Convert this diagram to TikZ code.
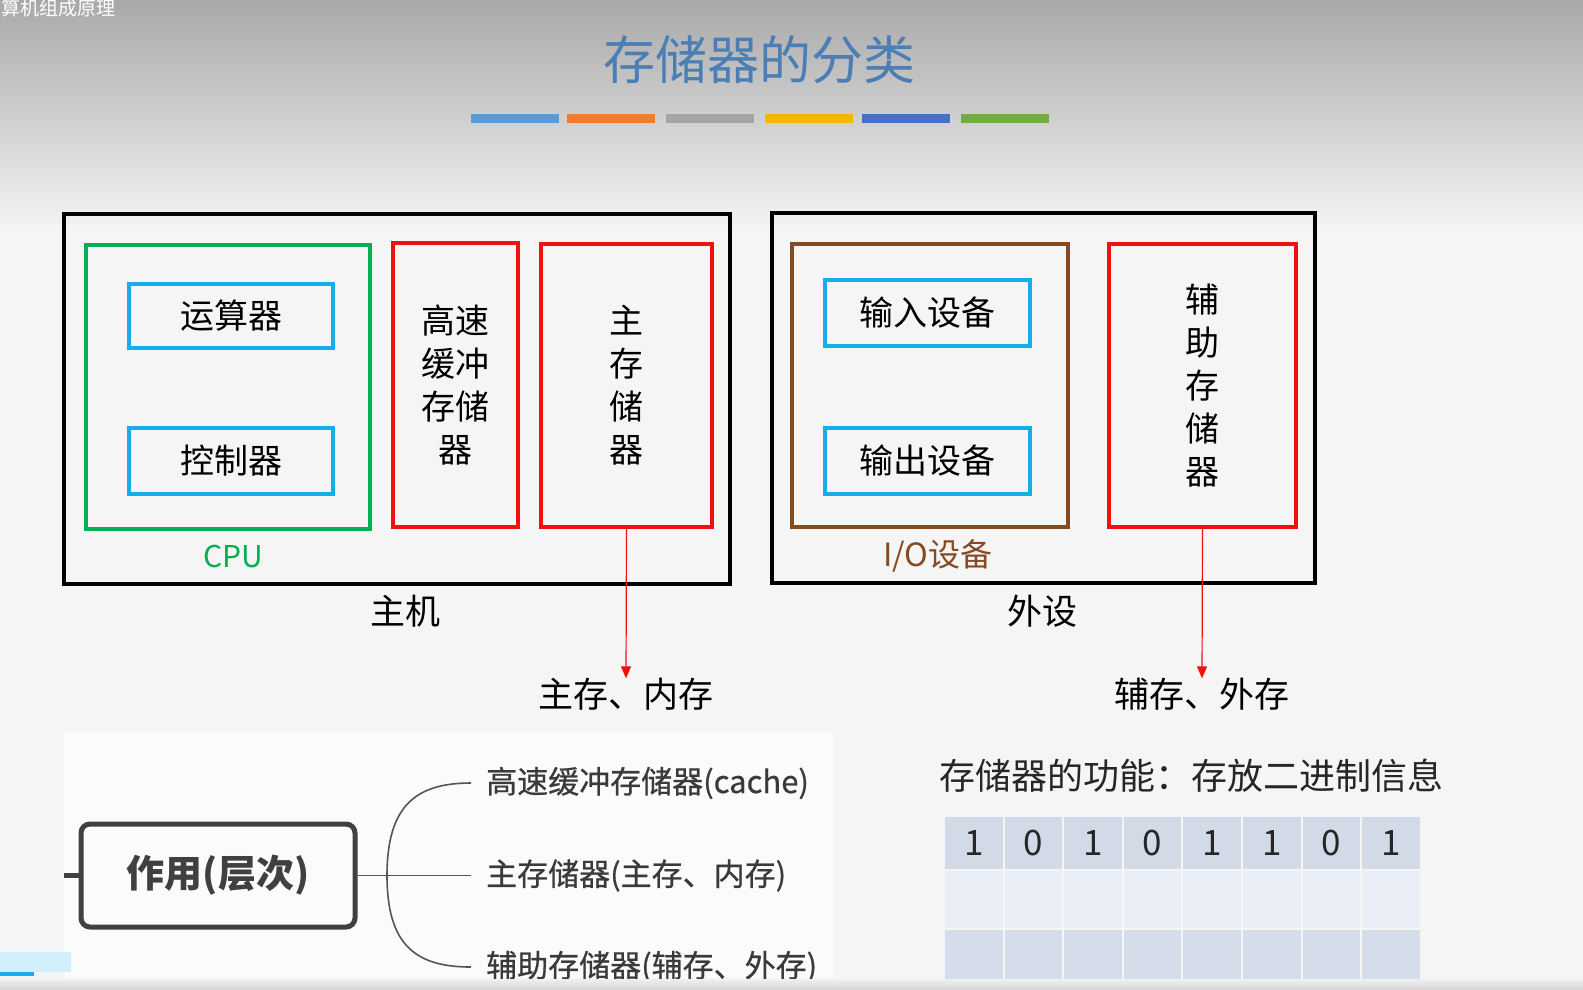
\documentclass[tikz,border=0pt]{standalone}
\usepackage{fontspec}
\setmainfont{Noto Sans CJK SC}
\newfontfamily\leaffam{Noto Sans CJK SC}[FakeBold=0.6]
\usetikzlibrary{arrows.meta,positioning}

\definecolor{titleblue}{HTML}{4A7EB5}
\definecolor{cpugreen}{HTML}{00B050}
\definecolor{unitblue}{HTML}{14AEEA}
\definecolor{memred}{HTML}{F01010}
\definecolor{iobrown}{HTML}{844A22}
\definecolor{leafgray}{HTML}{3A3A3A}
\definecolor{linegray}{HTML}{555555}
\definecolor{rowa}{HTML}{D2DAE8}
\definecolor{rowb}{HTML}{E9EDF5}
\definecolor{rowc}{HTML}{D5DCEA}
\definecolor{bara}{HTML}{5B9BD5}
\definecolor{barb}{HTML}{ED7D31}
\definecolor{barc}{HTML}{A5A5A5}
\definecolor{bard}{HTML}{F2B800}
\definecolor{bare}{HTML}{4472C4}
\definecolor{barf}{HTML}{70AD47}

\begin{document}
\begin{tikzpicture}[x=1pt,y=-1pt,>=stealth,
  box/.style={draw,line width=3.5pt,inner sep=0pt,font=\fontsize{34}{43}\selectfont},
  frame/.style={box,draw=black},
  cpubox/.style={box,draw=cpugreen},
  unitbox/.style={box,draw=unitblue},
  membox/.style={box,draw=memred,align=center},
  iobox/.style={box,draw=iobrown},
  caption/.style={font=\fontsize{35}{40}\selectfont},
  toarrow/.style={draw=memred,line width=1.2pt,-{Triangle[length=12pt,width=10pt]}},
  branch/.style={draw=linegray,line width=1.6pt},
  leaf/.style={anchor=west,inner xsep=15pt,text=leafgray,font=\leaffam\fontsize{31}{34}\selectfont},
  bitcell/.style={minimum width=57.6,inner sep=0pt,text=black!85,font=\fontsize{35}{35}\selectfont}]
\useasboundingbox (0,0) rectangle (1583,989);

% slide background
\shade[top color=black!34,bottom color=black!4] (0,0) rectangle (1583,230);
\fill[black!4] (0,229.5) rectangle (1583,989);
\fill[black!1.5] (64,733) rectangle (833,978);
\node[anchor=north east,inner sep=0pt,text=white,font=\fontsize{19}{19}\selectfont] (course) at (116,-1) {算机组成原理};

% title and colour bars
\node[text=titleblue,font=\fontsize{52}{52}\selectfont] (title) at (759,60) {存储器的分类};
\foreach \x/\c in {471/bara,567/barb,666/barc,765/bard,862/bare,961/barf} {
  \fill[black!18] ({\x+1},117) rectangle +(88,9);
  \fill[\c] (\x,114) rectangle +(88,9);
}

% host
\node[frame,minimum width=666,minimum height=370] (host) at (397,399) {};
\node[cpubox,minimum width=284,minimum height=284] (cpu) at (228,387) {};
\node[unitbox,minimum width=204,minimum height=64] (alu) at (231,316) {运算器};
\node[unitbox,minimum width=204,minimum height=66] (ctrl) at (231,461) {控制器};
\node[text=cpugreen,font=\fontsize{30}{30}\selectfont] (cpulbl) at (233,556) {CPU};
\node[membox,minimum width=125,minimum height=284] (cache) at (455.5,385) {高速\\缓冲\\存储\\器};
\node[membox,minimum width=171,minimum height=283] (mainmem) at (626.5,385.5) {主\\存\\储\\器};
\node[caption] (hostlbl) at (405,611) {主机};

% peripherals
\node[frame,minimum width=543,minimum height=370] (periph) at (1043.5,398) {};
\node[iobox,minimum width=276,minimum height=283] (io) at (930,385.5) {};
\node[unitbox,minimum width=205,minimum height=66] (indev) at (927.5,313) {输入设备};
\node[unitbox,minimum width=205,minimum height=66] (outdev) at (927.5,461) {输出设备};
\node[text=iobrown,font=\fontsize{32}{32}\selectfont] (iolbl) at (938,556) {I/O设备};
\node[membox,minimum width=187,minimum height=283] (auxmem) at (1202.5,385.5) {辅\\助\\存\\储\\器};
\node[caption] (periphlbl) at (1042,611) {外设};

% where each memory lives
\node[caption] (mmname) at (626,694) {主存、内存};
\node[caption] (auxname) at (1202,694) {辅存、外存};
\draw[toarrow] (mainmem.south) -- ([yshift=-4pt]mmname.north);
\draw[toarrow] (auxmem.south) -- ([yshift=-4pt]auxname.north);

% hierarchy by role
\node[draw=black!75,line width=5pt,rounded corners=9pt,minimum width=274,minimum height=103,
  text=black!75,font=\fontsize{38}{38}\selectfont\bfseries] (role) at (218,875.5) {作用(层次)};
\coordinate (stub) at (64,875.5);
\coordinate (fork) at (387,875.5);
\node[leaf] (lcache) at (471,783) {高速缓冲存储器(cache)};
\node[leaf] (lmain) at (471,875.5) {主存储器(主存、内存)};
\node[leaf] (laux) at (471,967) {辅助存储器(辅存、外存)};
\draw[draw=black!75,line width=5pt] (stub) -- (role.west);
\draw[branch] (role.east) -- (fork) -- (lmain.west);
\draw[branch] (fork) .. controls +(0,-70) and +(-55,0) .. (lcache.west);
\draw[branch] (fork) .. controls +(0,70) and +(-55,0) .. (laux.west);

% what memory does
\node[anchor=west,inner sep=0pt,font=\fontsize{36}{36}\selectfont,text=black!85] (func) at (939,776) {存储器的功能：存放二进制信息};
\foreach \d [count=\i] in {1,0,1,0,1,1,0,1} {
  \node[bitcell,fill=rowa,minimum height=52] (b\i) at ({944+(\i-0.5)*59.6},843) {\d};
  \node[bitcell,fill=rowb,minimum height=57] (m\i) at ({944+(\i-0.5)*59.6},899.5) {};
  \node[bitcell,fill=rowc,minimum height=54] (n\i) at ({944+(\i-0.5)*59.6},957) {};
}

% screen edge
\shade[top color=black!6,bottom color=black!16] (0,979) rectangle (1583,989);
\fill[cyan!18] (0,952) rectangle (71,972);
\fill[unitblue] (0,972) rectangle (34,976);
\end{tikzpicture}
\end{document}
